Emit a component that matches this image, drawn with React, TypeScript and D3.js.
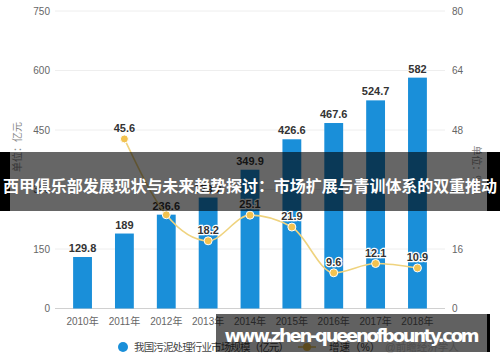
import React, { useEffect, useRef } from "react";
import * as d3 from "d3";

const years = ["2010年", "2011年", "2012年", "2013年", "2014年", "2015年", "2016年", "2017年", "2018年"];
const marketSize = [129.8, 189, 236.6, 279.7, 349.9, 426.6, 467.6, 524.7, 582];
const growthRate: (number | null)[] = [null, 45.6, 25.2, 18.2, 25.1, 21.9, 9.6, 12.1, 10.9];
const leftTicks = [0, 150, 300, 450, 600, 750];
const rightTicks = [0, 16, 32, 48, 64, 80];

const bannerTitle = "西甲俱乐部发展现状与未来趋势探讨：市场扩展与青训体系的双重推动";
const watermark = "www.zhen-queenofbounty.com";

const FONT = '"Liberation Sans", "Noto Sans CJK SC", sans-serif';

const App = () => {
  const ref = useRef<SVGSVGElement | null>(null);

  useEffect(() => {
    const svg = d3.select(ref.current);
    svg.selectAll("*").remove();

    const top = 11;
    const bottom = 308.5;
    const gridLeft = 55;
    const gridRight = 445;

    const x = d3
      .scaleBand()
      .domain(years)
      .range([61.6, 438.4])
      .paddingInner(0.55)
      .paddingOuter(0.275);
    const yL = d3.scaleLinear().domain([0, 750]).range([bottom, top]);
    const yR = d3.scaleLinear().domain([0, 80]).range([bottom, top]);

    const g = svg.append("g").style("font-family", FONT);

    // gridlines
    g.selectAll(".grid")
      .data(leftTicks)
      .enter()
      .append("line")
      .attr("x1", gridLeft)
      .attr("x2", gridRight)
      .attr("y1", (d) => yL(d))
      .attr("y2", (d) => yL(d))
      .attr("stroke", (d) => (d === 0 ? "#d0d0d0" : "#eeeeee"))
      .attr("stroke-width", 1);

    // left axis labels
    g.selectAll(".yl")
      .data(leftTicks)
      .enter()
      .append("text")
      .attr("x", 50)
      .attr("y", (d) => yL(d) + 3.5)
      .attr("text-anchor", "end")
      .attr("font-size", 10)
      .attr("fill", "#666")
      .text((d) => d);

    // right axis labels
    g.selectAll(".yr")
      .data(rightTicks)
      .enter()
      .append("text")
      .attr("x", 452)
      .attr("y", (d) => yR(d) + 3.5)
      .attr("font-size", 10)
      .attr("fill", "#666")
      .text((d) => d);

    // axis titles
    g.append("text")
      .attr("transform", "translate(21,147) rotate(-90)")
      .attr("text-anchor", "middle")
      .attr("font-size", 10)
      .attr("fill", "#888")
      .text("单位：亿元");
    g.append("text")
      .attr("transform", "translate(473,165) rotate(90)")
      .attr("text-anchor", "middle")
      .attr("font-size", 10)
      .attr("fill", "#888")
      .text("单位：%");

    // x labels
    g.selectAll(".xl")
      .data(years)
      .enter()
      .append("text")
      .attr("x", (d) => (x(d) as number) + x.bandwidth() / 2)
      .attr("y", bottom + 16)
      .attr("text-anchor", "middle")
      .attr("font-size", 10)
      .attr("fill", "#666")
      .text((d) => d);

    // bars
    g.selectAll(".bar")
      .data(marketSize)
      .enter()
      .append("rect")
      .attr("x", (d, i) => x(years[i]) as number)
      .attr("y", (d) => yL(d))
      .attr("width", x.bandwidth())
      .attr("height", (d) => bottom - yL(d))
      .attr("fill", "#1a8fd9");

    g.selectAll(".barLabel")
      .data(marketSize)
      .enter()
      .append("text")
      .attr("x", (d, i) => (x(years[i]) as number) + x.bandwidth() / 2)
      .attr("y", (d) => yL(d) - 5)
      .attr("text-anchor", "middle")
      .attr("font-size", 11)
      .attr("font-weight", "bold")
      .attr("fill", "#333")
      .text((d) => d);

    // growth line
    const pts = growthRate
      .map((v, i) => ({ v, i }))
      .filter((p) => p.v !== null) as { v: number; i: number }[];
    const cx = (p: { i: number }) => (x(years[p.i]) as number) + x.bandwidth() / 2;

    const line = d3
      .line<{ v: number; i: number }>()
      .x(cx)
      .y((p) => yR(p.v))
      .curve(d3.curveMonotoneX);

    g.append("path")
      .datum(pts)
      .attr("d", line)
      .attr("fill", "none")
      .attr("stroke", "#efd37e")
      .attr("stroke-width", 1.6);

    g.selectAll(".pt")
      .data(pts)
      .enter()
      .append("circle")
      .attr("cx", cx)
      .attr("cy", (p) => yR(p.v))
      .attr("r", 4)
      .attr("fill", "#f2c24f")
      .attr("stroke", "#fff")
      .attr("stroke-width", 1);

    // labels hidden when they collide with the bar's own label (as in the source chart)
    const shownPts = pts.filter(
      (p) => Math.abs(yR(p.v) - 7 - (yL(marketSize[p.i]) - 5)) > 10
    );

    g.selectAll(".ptLabel")
      .data(shownPts)
      .enter()
      .append("text")
      .attr("x", cx)
      .attr("y", (p) => yR(p.v) - 7)
      .attr("text-anchor", "middle")
      .attr("font-size", 11)
      .attr("font-weight", "bold")
      .attr("fill", "#333")
      .attr("stroke", "#fff")
      .attr("stroke-width", 2.5)
      .attr("paint-order", "stroke")
      .text((p) => p.v);

    // legend
    const ly = 347;
    g.append("circle").attr("cx", 123).attr("cy", ly).attr("r", 5).attr("fill", "#1a8fd9");
    g.append("text")
      .attr("x", 134)
      .attr("y", ly + 4)
      .attr("font-size", 10.5)
      .attr("fill", "#444")
      .attr("textLength", 155)
      .text("我国污泥处理行业市场规模（亿元）");
    g.append("line")
      .attr("x1", 298)
      .attr("x2", 316)
      .attr("y1", ly)
      .attr("y2", ly)
      .attr("stroke", "#efd37e")
      .attr("stroke-width", 2);
    g.append("circle").attr("cx", 307).attr("cy", ly).attr("r", 4).attr("fill", "#f2c24f");
    g.append("text")
      .attr("x", 329)
      .attr("y", ly + 4)
      .attr("font-size", 10.5)
      .attr("fill", "#444")
      .text("增速（%）");
    g.append("text")
      .attr("x", 385)
      .attr("y", ly + 4)
      .attr("font-size", 10.5)
      .attr("fill", "#ccc")
      .text("@前瞻经济学人");

    // banner overlay
    g.append("rect").attr("x", 0).attr("y", 152).attr("width", 500).attr("height", 59).attr("fill", "rgba(0,0,0,0.6)");
    g.append("rect").attr("x", 0).attr("y", 152).attr("width", 10).attr("height", 59).attr("fill", "#000");
    g.append("rect").attr("x", 487).attr("y", 152).attr("width", 13).attr("height", 59).attr("fill", "#000");
    g.append("text")
      .attr("x", 250)
      .attr("y", 192)
      .attr("text-anchor", "middle")
      .attr("font-size", 16)
      .attr("font-weight", "bold")
      .attr("fill", "#fff")
      .attr("textLength", 494)
      .style("font-family", '"Noto Sans CJK SC", sans-serif')
      .text(bannerTitle);

    // watermark
    g.append("rect").attr("x", 216).attr("y", 314).attr("width", 271).attr("height", 38).attr("fill", "rgba(0,0,0,0.62)");
    g.append("rect").attr("x", 487).attr("y", 314).attr("width", 3).attr("height", 38).attr("fill", "#000");
    g.append("text")
      .attr("x", 352)
      .attr("y", 342)
      .attr("text-anchor", "middle")
      .attr("font-size", 18)
      .attr("font-weight", "bold")
      .attr("fill", "#fff")
      .attr("textLength", 255)
      .style("font-family", '"DejaVu Sans", sans-serif')
      .text(watermark);
  }, []);

  return (
    <svg
      ref={ref}
      width={500}
      height={362}
      style={{ position: "absolute", left: 0, top: 0, background: "#fff" }}
    />
  );
};

export default App;
